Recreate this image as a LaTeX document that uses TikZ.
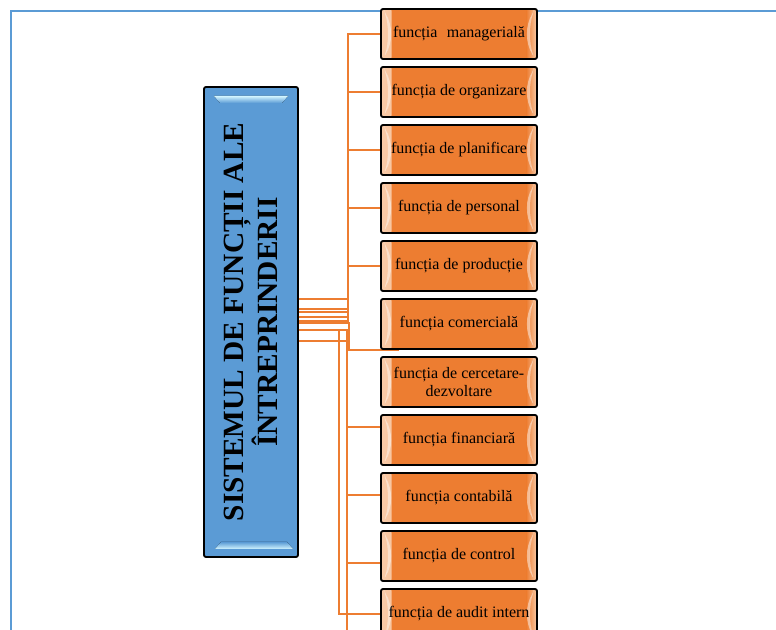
\documentclass[tikz,border=0pt]{standalone}
\usepackage{fontspec}
\setmainfont{Liberation Serif}
\definecolor{accblue}{HTML}{5B9BD5}
\definecolor{accorange}{HTML}{ED7D31}
\definecolor{orangelight}{HTML}{F9CBA8}
\definecolor{bevelcyan}{HTML}{D2F5FF}

\begin{document}
\begin{tikzpicture}[x=0.75pt,y=-0.75pt,
  conn/.style={draw=accorange, line width=2.1pt},
  frameline/.style={draw=accblue, line width=1.6pt},
  funcbox/.style={draw=black, line width=1.4pt, rounded corners=1.5pt,
    fill=accorange, minimum width=117pt, minimum height=37.5pt,
    inner sep=0pt, align=center, font=\fontsize{12}{13}\selectfont,
    path picture={
      \fill[left color=orangelight, right color=accorange]
        (path picture bounding box.south west) rectangle
        ([xshift=8pt]path picture bounding box.north west);
      \fill[left color=accorange, right color=orangelight]
        ([xshift=-8pt]path picture bounding box.south east) rectangle
        (path picture bounding box.north east);
      \fill[white, opacity=0.45]
        ([xshift=2.5pt,yshift=-2pt]path picture bounding box.north west)
        .. controls ([xshift=9pt,yshift=-12pt]path picture bounding box.north west)
        and ([xshift=9pt,yshift=12pt]path picture bounding box.south west)
        .. ([xshift=2.5pt,yshift=2pt]path picture bounding box.south west)
        .. controls ([xshift=6pt,yshift=12pt]path picture bounding box.south west)
        and ([xshift=6pt,yshift=-12pt]path picture bounding box.north west)
        .. cycle;
      \fill[white, opacity=0.45]
        ([xshift=-2.5pt,yshift=-2pt]path picture bounding box.north east)
        .. controls ([xshift=-9pt,yshift=-12pt]path picture bounding box.north east)
        and ([xshift=-9pt,yshift=12pt]path picture bounding box.south east)
        .. ([xshift=-2.5pt,yshift=2pt]path picture bounding box.south east)
        .. controls ([xshift=-6pt,yshift=12pt]path picture bounding box.south east)
        and ([xshift=-6pt,yshift=-12pt]path picture bounding box.north east)
        .. cycle;
    }},
  sysbox/.style={draw=black, line width=1.4pt, rounded corners=1.5pt,
    fill=accblue, minimum width=70.5pt, minimum height=352.5pt, inner sep=0pt},
  systext/.style={rotate=90, align=center, inner sep=0pt,
    font=\fontsize{22}{24}\selectfont\bfseries}
]
\useasboundingbox (0,0) rectangle (776,630);

% page frame
\draw[frameline] (11,632) -- (11,11) -- (778,11);

% central block with its bevel highlights
\node[sysbox] (sys) at (251,322) {};
\fill[top color=bevelcyan, bottom color=accblue]
  (214,96) -- (288,96) -- (282,103) -- (220,103) -- cycle;
\fill[top color=accblue, bottom color=bevelcyan]
  (221,542) -- (287,542) -- (293,549) -- (215,549) -- cycle;
\node[systext] (title) at (sys.center) {SISTEMUL DE FUNCȚII ALE\\ÎNTREPRINDERII};

% centres of the function boxes
\path
  (459,34)  coordinate (p1)
  (459,92)  coordinate (p2)
  (459,150) coordinate (p3)
  (459,208) coordinate (p4)
  (459,266) coordinate (p5)
  (459,324) coordinate (p6)
  (459,382) coordinate (p7)
  (459,440) coordinate (p8)
  (459,498) coordinate (p9)
  (459,556) coordinate (p10)
  (459,614) coordinate (p11);

% connector end points on the left sides of the boxes
\path (p1) ++(-78,0) coordinate (w1);
\path (p2) ++(-78,0) coordinate (w2);
\path (p3) ++(-78,0) coordinate (w3);
\path (p4) ++(-78,0) coordinate (w4);
\path (p5) ++(-78,0) coordinate (w5);
\path (p6) ++(-60,26) coordinate (e6);
\path (p8) ++(-78,-13) coordinate (w8);
\path (p9) ++(-78,-3) coordinate (w9);
\path (p10) ++(-78,7) coordinate (w10);
\path (p11) ++(-78,0) coordinate (w11);
\coordinate (offpage) at (347,645);

% elbow connectors
\draw[conn] (sys.east |- 0,299) -- (348,299) |- (w1);
\draw[conn] (sys.east |- 0,309) -- (348,309) |- (w2);
\draw[conn] (sys.east |- 0,312) -- (348,312) |- (w3);
\draw[conn] (sys.east |- 0,317) -- (348,317) |- (w4);
\draw[conn] (sys.east |- 0,321) -- (348,321) |- (w5);
\draw[conn] (sys.east |- 0,323) -- (349,323) |- (e6);
\draw[conn] (sys.east |- 0,330) -- (347,330) |- (w8);
\draw[conn] (sys.east |- 0,330) -- (347,330) |- (w9);
\draw[conn] (sys.east |- 0,341) -- (347,341) |- (w10);
\draw[conn] (sys.east |- 0,330) -- (339,330) |- (w11);
\draw[conn] (sys.east |- 0,341) -- (347,341) -- (offpage);

% function boxes
\node[funcbox] (f1)  at (p1)  {\makebox[99pt][s]{funcția managerială}};
\node[funcbox] (f2)  at (p2)  {funcția de organizare};
\node[funcbox] (f3)  at (p3)  {funcția de planificare};
\node[funcbox] (f4)  at (p4)  {funcția de personal};
\node[funcbox] (f5)  at (p5)  {funcția de producție};
\node[funcbox] (f6)  at (p6)  {funcția comercială};
\node[funcbox] (f7)  at (p7)  {funcția de cercetare-\\dezvoltare};
\node[funcbox] (f8)  at (p8)  {funcția financiară};
\node[funcbox] (f9)  at (p9)  {funcția contabilă};
\node[funcbox] (f10) at (p10) {funcția de control};
\node[funcbox] (f11) at (p11) {funcția de audit intern};
\end{tikzpicture}
\end{document}
